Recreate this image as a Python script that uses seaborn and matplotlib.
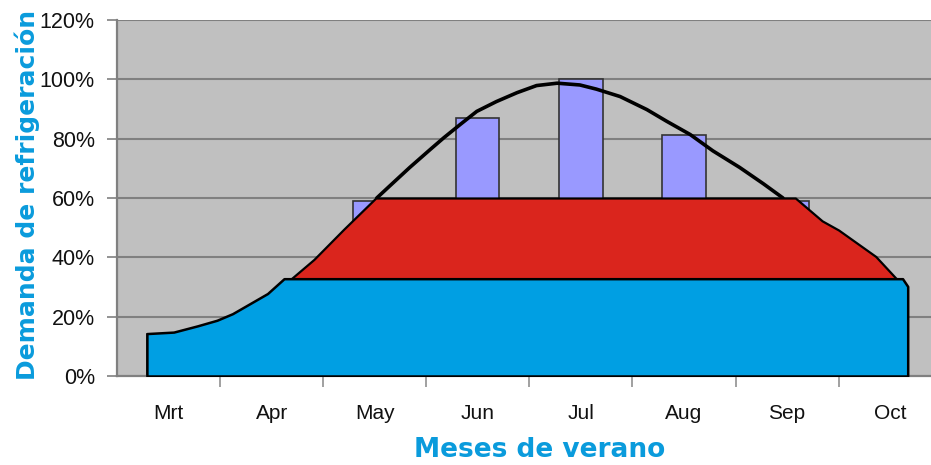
import numpy as np
import matplotlib
matplotlib.use("Agg")
import matplotlib.pyplot as plt
import seaborn as sns

# months and monthly cooling demand (bars, %); Oct bar is hidden in the source
months = ["Mrt", "Apr", "May", "Jun", "Jul", "Aug", "Sep", "Oct"]
bar_vals = [14, 24, 59, 87, 100, 81.4, 59, np.nan]

# smooth demand curve (x in month index units)
curve_x = [2.02, 2.15, 2.34, 2.54, 2.67, 2.83, 2.99, 3.18, 3.38, 3.57, 3.77,
           3.99, 4.15, 4.38, 4.64, 4.83, 5.06, 5.28, 5.54, 5.77, 5.96]
curve_y = [60, 64.2, 70.3, 76.4, 80.3, 84.8, 89.2, 92.5, 95.5, 97.9, 98.7,
           98.1, 96.7, 94.2, 89.8, 85.9, 81.4, 75.9, 70.3, 64.8, 60]

# red band (capped at 60%)
red_x = [1.19, 1.41, 1.70, 2.01, 6.08, 6.34, 6.50, 6.86, 7.06]
red_y = [32.8, 39.3, 49.5, 60, 60, 52.3, 49.2, 40.3, 32.8]

# blue base band (capped at ~33%)
blue_x = [-0.21, 0.05, 0.28, 0.47, 0.62, 0.79, 0.96, 1.12, 7.12, 7.17]
blue_y = [14.3, 14.8, 16.9, 18.8, 21.0, 24.4, 27.8, 32.8, 32.8, 30.2]

yticks = [0, 20, 40, 60, 80, 100, 120]

sns.set_style("white")
plt.rcParams["font.family"] = ["Liberation Sans", "DejaVu Sans"]

fig = plt.figure(figsize=(9.31, 4.65), dpi=100)
ax = fig.add_axes([117 / 931, 89 / 465, 814 / 931, 356 / 465])
ax.set_facecolor("#C0C0C0")

sns.barplot(x=months, y=bar_vals, order=months, width=0.42, color="#9999FF",
            saturation=1, edgecolor="#333333", linewidth=1.2, ax=ax, zorder=2)

ax.plot(curve_x, curve_y, color="black", lw=2.6, zorder=3)
ax.fill_between(red_x, 0, red_y, facecolor="#DA251D", edgecolor="black",
                lw=1.6, zorder=4)
ax.fill_between(blue_x, 0, blue_y, facecolor="#009FE3", edgecolor="black",
                lw=1.8, zorder=5)

ax.set_xlim(-0.5, 7.396)
ax.set_ylim(0, 120)
ax.set_yticks(yticks)
ax.set_yticklabels([f"{v}%" for v in yticks])
for v in yticks[1:]:
    ax.axhline(v, color="#808080", lw=1.5, zorder=1)

ax.set_xticks(np.arange(0.5, 7.5, 1))
ax.set_xticklabels([])
ax.set_xticks(range(len(months)), minor=True)
ax.set_xticklabels(months, minor=True)
ax.tick_params(axis="x", which="major", length=8, width=1.2, color="#909090",
               direction="out", bottom=True)
ax.tick_params(axis="x", which="minor", length=0, pad=20, labelsize=15,
               labelcolor="#111111")
ax.tick_params(axis="y", length=7, width=1.2, color="#808080", pad=9,
               labelsize=15.5, labelcolor="#111111", left=True)

for s in ["top", "right"]:
    ax.spines[s].set_visible(False)
for s in ["left", "bottom"]:
    ax.spines[s].set_color("#808080")
    ax.spines[s].set_linewidth(1.6)
ax.set_xlabel("")
ax.set_ylabel("")

fig.text(27 / 931, 1 - 195 / 465, "Demanda de refrigeración", rotation=90,
         ha="center", va="center", color="#0A9BDC", fontsize=18,
         fontweight="bold", family="DejaVu Sans")
fig.text(540 / 931, 1 - 450 / 465, "Meses de verano", ha="center",
         va="center", color="#0A9BDC", fontsize=19, fontweight="bold",
         family="DejaVu Sans")

fig.savefig("out.png", dpi=100, facecolor="white")
